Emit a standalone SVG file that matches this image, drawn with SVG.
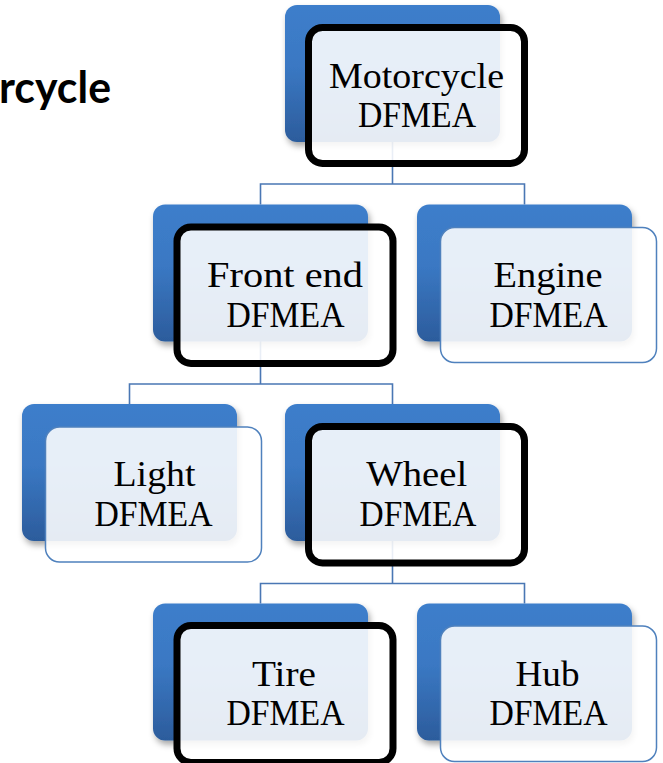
<svg xmlns="http://www.w3.org/2000/svg" width="663" height="763" viewBox="0 0 663 763">
<defs>
<linearGradient id="blueGrad" x1="0" y1="0" x2="0" y2="1">
<stop offset="0" stop-color="#3D7ECB"/>
<stop offset="0.45" stop-color="#3A78C3"/>
<stop offset="1" stop-color="#2C5C9C"/>
</linearGradient>
<filter id="shadow" x="-10%" y="-10%" width="125%" height="130%">
<feDropShadow dx="2" dy="4" stdDeviation="3" flood-color="#000" flood-opacity="0.35"/>
</filter>
</defs>
<style>
.back{fill:url(#blueGrad);filter:url(#shadow);}
.front{fill:#FFFFFF;fill-opacity:0.88;}
.thin{stroke:#4F81BD;stroke-width:1.5;}
.bold{stroke:#000000;stroke-width:7;}
.lbl{font-family:"Liberation Serif","Times New Roman",serif;font-size:36px;fill:#000000;text-anchor:middle;}
.conn{fill:none;stroke:#4A77B4;stroke-width:1.6;}
.title{font-family:Lato,"Liberation Sans",Arial,sans-serif;font-weight:bold;font-size:44px;fill:#000000;}
</style>
<rect x="0" y="0" width="663" height="763" fill="#FFFFFF"/>
<text class="title" x="-1" y="103" textLength="112" lengthAdjust="spacingAndGlyphs">rcycle</text>
<g id="connectors">
<path class="conn" d="M392.5,141V184M260.5,204.5V184H524.5V204.5"/>
<path class="conn" d="M260.5,341V384M129.5,404V384H392.5V404"/>
<path class="conn" d="M392.5,541V583.5M260.5,603.5V583.5H524.5V603.5"/>
</g>
<g id="node-motorcycle">
<rect class="back" x="285" y="5" width="215" height="137" rx="12"/>
<rect class="front bold" x="308.5" y="27.5" width="216" height="136" rx="14"/>
<text class="lbl" x="416.5" y="87.5" textLength="175" lengthAdjust="spacingAndGlyphs">Motorcycle</text>
<text class="lbl" x="417" y="127" textLength="118" lengthAdjust="spacingAndGlyphs">DFMEA</text>
</g>
<g id="node-frontend">
<rect class="back" x="153" y="204.5" width="215" height="137" rx="12"/>
<rect class="front bold" x="177" y="227" width="216" height="136.5" rx="14"/>
<text class="lbl" x="285" y="287" textLength="156" lengthAdjust="spacingAndGlyphs">Front end</text>
<text class="lbl" x="285.5" y="326.5" textLength="118" lengthAdjust="spacingAndGlyphs">DFMEA</text>
</g>
<g id="node-engine">
<rect class="back" x="417" y="204.5" width="215" height="137" rx="12"/>
<rect class="front thin" x="440.5" y="227.5" width="216" height="135" rx="14"/>
<text class="lbl" x="548" y="287" textLength="109" lengthAdjust="spacingAndGlyphs">Engine</text>
<text class="lbl" x="548.5" y="326.5" textLength="118" lengthAdjust="spacingAndGlyphs">DFMEA</text>
</g>
<g id="node-light">
<rect class="back" x="22" y="404" width="215" height="137" rx="12"/>
<rect class="front thin" x="45.5" y="427" width="216" height="135" rx="14"/>
<text class="lbl" x="154.5" y="486" textLength="82" lengthAdjust="spacingAndGlyphs">Light</text>
<text class="lbl" x="153.5" y="525.5" textLength="118" lengthAdjust="spacingAndGlyphs">DFMEA</text>
</g>
<g id="node-wheel">
<rect class="back" x="285" y="404" width="215" height="137" rx="12"/>
<rect class="front bold" x="308.5" y="426.5" width="216" height="136.5" rx="14"/>
<text class="lbl" x="416.7" y="486" textLength="101" lengthAdjust="spacingAndGlyphs">Wheel</text>
<text class="lbl" x="418" y="525.5" textLength="117" lengthAdjust="spacingAndGlyphs">DFMEA</text>
</g>
<g id="node-tire">
<rect class="back" x="153" y="603.5" width="215" height="137" rx="12"/>
<rect class="front bold" x="177" y="625.5" width="216" height="137" rx="14"/>
<text class="lbl" x="284" y="685.5" textLength="64" lengthAdjust="spacingAndGlyphs">Tire</text>
<text class="lbl" x="285.5" y="725" textLength="118" lengthAdjust="spacingAndGlyphs">DFMEA</text>
</g>
<g id="node-hub">
<rect class="back" x="417" y="603.5" width="215" height="137" rx="12"/>
<rect class="front thin" x="440.5" y="626" width="216" height="135.5" rx="14"/>
<text class="lbl" x="547.5" y="685.5" textLength="64" lengthAdjust="spacingAndGlyphs">Hub</text>
<text class="lbl" x="548.5" y="725" textLength="118" lengthAdjust="spacingAndGlyphs">DFMEA</text>
</g>
</svg>
